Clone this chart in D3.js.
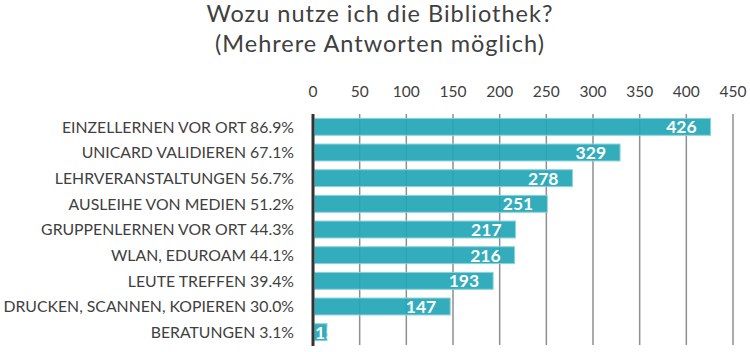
<!DOCTYPE html>
<meta charset="utf-8">
<style>
body { margin: 0; background: #fff; }
text { font-family: Lato, "Open Sans", sans-serif; fill: #404040; }
.title { font-size: 23.5px; font-weight: 400; letter-spacing: 1px; }
.tick-label { font-size: 15.5px; }
.cat-label { font-size: 15.8px; }
.val-label { font-size: 17.5px; font-weight: 700; fill: #fff; }
.grid { stroke: #8f8f8f; stroke-width: 1.5px; }
.bar { fill: #22a6b6; fill-opacity: 0.92; stroke: #8fd3dc; stroke-width: 1px; }
</style>
<body>
<script src="https://d3js.org/d3.v7.min.js"></script>
<script>
    const categories = [
        "EINZELLERNEN VOR ORT 86.9%",
        "UNICARD VALIDIEREN 67.1%",
        "LEHRVERANSTALTUNGEN 56.7%",
        "AUSLEIHE VON MEDIEN 51.2%",
        "GRUPPENLERNEN VOR ORT 44.3%",
        "WLAN, EDUROAM 44.1%",
        "LEUTE TREFFEN 39.4%",
        "DRUCKEN, SCANNEN, KOPIEREN 30.0%",
        "BERATUNGEN 3.1%"
    ];
    const values = [426, 329, 278, 251, 217, 216, 193, 147, 15];
    const ticks = [0, 50, 100, 150, 200, 250, 300, 350, 400, 450];
    const titleLines = ["Wozu nutze ich die Bibliothek?", "(Mehrere Antworten möglich)"];

    const width = 750, height = 352;

    const svg = d3.select("body").append("svg")
        .attr("width", width)
        .attr("height", height);

    const x = d3.scaleLinear().domain([0, 450]).range([313, 733]);
    const y = d3.scaleBand().domain(categories).range([114, 345])
        .paddingInner(0.34).paddingOuter(0.17);

    // title
    svg.append("g").selectAll("text")
        .data(titleLines)
        .join("text")
            .attr("class", "title")
            .attr("x", 380)
            .attr("y", (d, i) => 22 + i * 30)
            .attr("text-anchor", "middle")
            .text(d => d);

    const data = categories.map((c, i) => ({cat: c, val: values[i]}));

    // gridlines under the bars
    svg.append("g").selectAll("line")
        .data(ticks.slice(1))
        .join("line")
            .attr("class", "grid")
            .attr("x1", d => x(d)).attr("x2", d => x(d))
            .attr("y1", 114).attr("y2", 345);

    // top tick labels
    svg.append("g").selectAll("text")
        .data(ticks)
        .join("text")
            .attr("class", "tick-label")
            .attr("x", d => x(d))
            .attr("y", 97)
            .attr("text-anchor", "middle")
            .text(d => d);

    // bars
    svg.append("g").selectAll("rect")
        .data(data)
        .join("rect")
            .attr("class", "bar")
            .attr("x", x(0) + 1.5)
            .attr("y", d => y(d.cat))
            .attr("width", d => x(d.val) - x(0) - 1.5)
            .attr("height", y.bandwidth());

    // left axis line
    svg.append("line")
        .attr("x1", x(0)).attr("x2", x(0))
        .attr("y1", 114).attr("y2", 346)
        .attr("stroke", "#333")
        .attr("stroke-width", 3);

    // category labels
    svg.append("g").selectAll("text")
        .data(data)
        .join("text")
            .attr("class", "cat-label")
            .attr("x", 294)
            .attr("y", d => y(d.cat) + y.bandwidth() / 2)
            .attr("dy", "0.36em")
            .attr("text-anchor", "end")
            .text(d => d.cat);

    // value labels inside bar end, clipped to the bar
    svg.append("defs").selectAll("clipPath")
        .data(data)
        .join("clipPath")
            .attr("id", (d, i) => "clip" + i)
        .append("rect")
            .attr("x", x(0))
            .attr("y", d => y(d.cat))
            .attr("width", d => x(d.val) - x(0) + 1)
            .attr("height", y.bandwidth());

    svg.append("g").selectAll("text")
        .data(data)
        .join("text")
            .attr("class", "val-label")
            .attr("clip-path", (d, i) => `url(#clip${i})`)
            .attr("y", d => y(d.cat) + y.bandwidth() / 2)
            .attr("dy", "0.37em")
            .text(d => d.val)
            .attr("x", function (d) {
                const w = this.getComputedTextLength();
                return Math.max(x(d.val) - 14 - w, x(0) + 2);
            });
</script>
</body>
